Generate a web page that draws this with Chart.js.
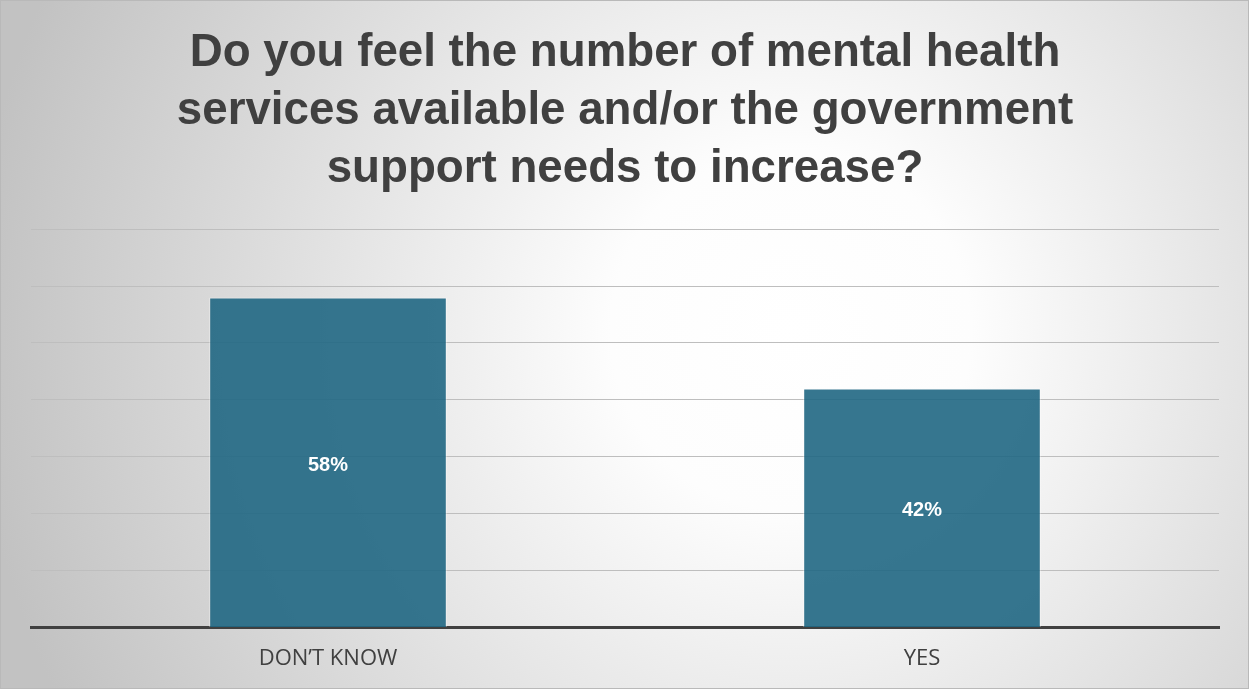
<!DOCTYPE html>
<html>
<head>
<meta charset="utf-8">
<script src="https://cdn.jsdelivr.net/npm/chart.js@4"></script>
<style>
  html, body { margin: 0; padding: 0; background: #fff; }
  #wrap { position: relative; width: 1249px; height: 689px; box-sizing: border-box; border: 1px solid #b9b9b9; }
  canvas { display: block; }
</style>
</head>
<body>
<div id="wrap"><canvas id="chart" width="1247" height="687"></canvas></div>
<script>
// Survey answers and their shares (percent)
const categories = ["DON\u2019T KNOW", "YES"];
const shares = [58, 42];
const titleLines = [
  "Do you feel the number of mental health",
  "services available and/or the government",
  "support needs to increase?"
];

// Soft radial backdrop behind the whole chart
const backdrop = {
  id: 'backdrop',
  beforeDraw(chart) {
    const { ctx, width, height } = chart;
    const g = ctx.createRadialGradient(790, 330, 0, 790, 330, 820);
    g.addColorStop(0, '#ffffff');
    g.addColorStop(0.22, '#fdfdfd');
    g.addColorStop(1, '#c2c2c2');
    ctx.save();
    ctx.fillStyle = g;
    ctx.fillRect(0, 0, width, height);
    ctx.restore();
  }
};

// Percentage written in the middle of each bar
const barValues = {
  id: 'barValues',
  afterDatasetsDraw(chart) {
    const { ctx } = chart;
    const meta = chart.getDatasetMeta(0);
    ctx.save();
    ctx.fillStyle = '#ffffff';
    ctx.font = 'bold 20px "Liberation Sans", Arial, sans-serif';
    ctx.textAlign = 'center';
    ctx.textBaseline = 'middle';
    meta.data.forEach((bar, i) => {
      const mid = (bar.y + bar.base) / 2 + 3;
      ctx.fillText(shares[i] + '%', bar.x, mid);
    });
    ctx.restore();
  }
};

new Chart(document.getElementById('chart'), {
  type: 'bar',
  data: {
    labels: categories,
    datasets: [{
      data: shares,
      backgroundColor: 'rgba(32,103,131,0.9)',
      borderColor: 'rgba(255,255,255,0.45)',
      borderWidth: 1,
      categoryPercentage: 1,
      barPercentage: 0.4
    }]
  },
  options: {
    responsive: false,
    animation: false,
    layout: { padding: { left: 30, right: 29, top: 0, bottom: 6 } },
    plugins: {
      legend: { display: false },
      tooltip: { enabled: false },
      title: {
        display: true,
        text: titleLines,
        color: '#404040',
        font: { family: '"Liberation Sans", Arial, sans-serif', size: 45.7, weight: 'bold', lineHeight: 1.27 },
        padding: { top: 23, bottom: 31 }
      }
    },
    scales: {
      x: {
        grid: { display: false },
        border: { display: true, color: '#404040', width: 3 },
        ticks: {
          color: '#404040',
          font: { family: '"Open Sans", sans-serif', size: 22 },
          padding: 10
        }
      },
      y: {
        min: 0,
        max: 70,
        ticks: { display: false, stepSize: 10 },
        grid: { color: '#bebebe', lineWidth: 1, drawTicks: false },
        border: { display: false }
      }
    }
  },
  plugins: [backdrop, barValues]
});
</script>
</body>
</html>
